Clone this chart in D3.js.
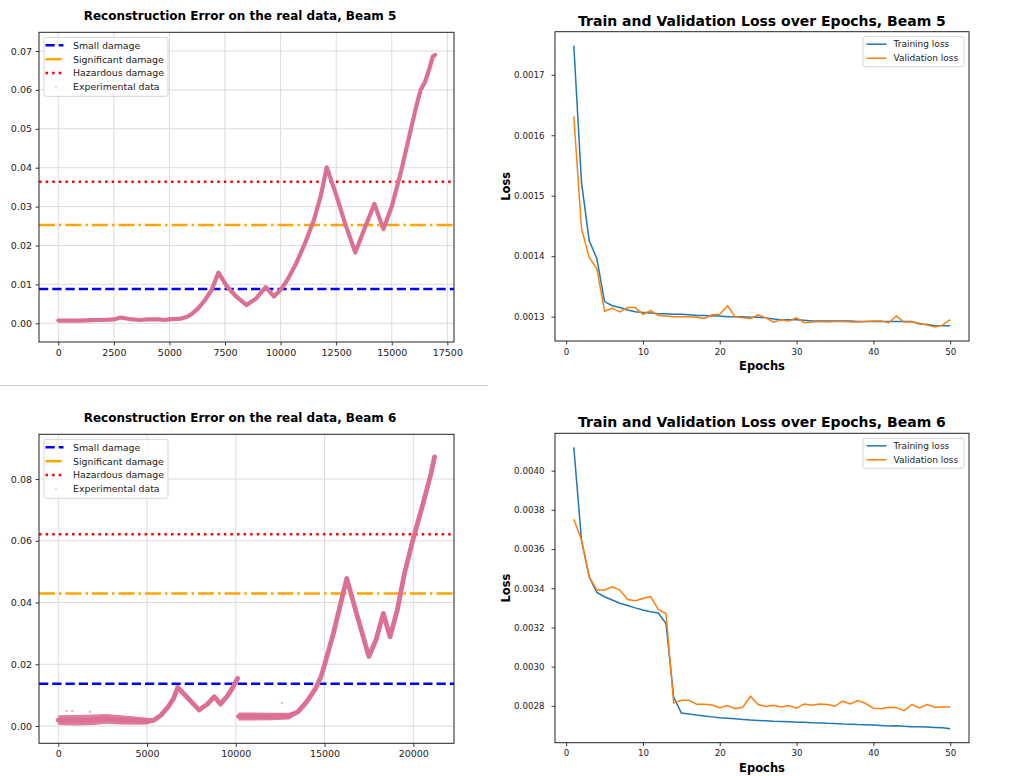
<!DOCTYPE html>
<html>
<head>
<meta charset="utf-8">
<script src="https://cdn.jsdelivr.net/npm/d3@7"></script>
<style>
  body { margin: 0; background: #fff; }
  svg { font-family: "DejaVu Sans", sans-serif; }
</style>
</head>
<body>
<div id="chart"></div>
<script>
// ---- reconstruction error, beam 5 ----
const b5X = [0, 500, 1000, 1500, 2000, 2500, 2800, 3200, 3700, 4000, 4500, 4800, 5000, 5500, 5800, 6000, 6300, 6600, 6900, 7200, 7600, 8000, 8470, 8900, 9330, 9700, 10000, 10300, 10700, 11100, 11500, 11800, 12080, 12500, 12900, 13360, 13800, 14220, 14620, 15000, 15400, 15800, 16100, 16300, 16500, 16700, 16850, 16950];
const b5Y = [0.0007, 0.0007, 0.0007, 0.0008, 0.00085, 0.001, 0.0015, 0.0011, 0.00085, 0.001, 0.001, 0.00085, 0.001, 0.0012, 0.0017, 0.0024, 0.0039, 0.006, 0.0086, 0.013, 0.0094, 0.0069, 0.0047, 0.0064, 0.0093, 0.0069, 0.0086, 0.0111, 0.0154, 0.0206, 0.0266, 0.0326, 0.0401, 0.033, 0.0257, 0.0182, 0.0247, 0.0307, 0.0242, 0.030, 0.0386, 0.0484, 0.0557, 0.060, 0.0621, 0.0656, 0.0686, 0.069];
const b5Thresholds = [0.00882, 0.02527, 0.0364];

// ---- reconstruction error, beam 6 (null = gap in the record) ----
const b6X = [0, 1000, 2000, 2700, 3500, 4500, 5000, 5400, 5800, 6200, 6500, 6730, 7300, 7930, 8400, 8790, 9130, 9500, 9800, 10100, null,
             10150, 11000, 12000, 13000, 13500, 14000, 14500, 14800, 15000, 15500, 16000, 16250, 16800, 17500, 17900, 18310, 18690, 19100, 19500, 20000, 20500, 21000, 21200];
const b6Y = [0.0019, 0.0019, 0.002, 0.0023, 0.002, 0.0017, 0.0016, 0.0019, 0.0036, 0.0063, 0.009, 0.0125, 0.009, 0.0052, 0.0071, 0.0095, 0.0071, 0.0095, 0.0122, 0.0154, null,
             0.0031, 0.0031, 0.0031, 0.0032, 0.0046, 0.0079, 0.0122, 0.016, 0.0198, 0.030, 0.0419, 0.0478, 0.0365, 0.0225, 0.0279, 0.0365, 0.0289, 0.0376, 0.0494, 0.0608, 0.071, 0.0818, 0.0872];
// half height of the noisy scatter band
const b6Spread = [0.0016, 0.0017, 0.0017, 0.0016, 0.0015, 0.0013, 0.0011, 0.0006, 0.0002, 0, 0, 0, 0, 0, 0, 0, 0, 0, 0, 0, null,
                  0.0013, 0.0013, 0.0012, 0.0011, 0.0006, 0.0003, 0, 0, 0, 0, 0, 0, 0, 0, 0, 0, 0, 0, 0, 0, 0, 0, 0];
const b6OutX = [470, 790, 1790, 12600];
const b6OutY = [0.0049, 0.0049, 0.0046, 0.0075];
const b6Thresholds = [0.0137, 0.0429, 0.0621];

// ---- training history ----
const epochs = [1,2,3,4,5,6,7,8,9,10,11,12,13,14,15,16,17,18,19,20,21,22,23,24,25,26,27,28,29,30,31,32,33,34,35,36,37,38,39,40,41,42,43,44,45,46,47,48,49,50];
const b5Train = [0.001748, 0.001522, 0.001426, 0.001396, 0.001325, 0.001318, 0.001315, 0.001311, 0.001308, 0.001307, 0.001306, 0.001305, 0.001305, 0.001304, 0.001304, 0.001303, 0.001302, 0.001302, 0.001301, 0.001301, 0.001300, 0.001300, 0.001300, 0.001299, 0.001299, 0.001298, 0.001296, 0.001295, 0.001295, 0.001295, 0.001294, 0.001293, 0.001293, 0.001293, 0.001293, 0.001293, 0.001293, 0.001292, 0.001292, 0.001292, 0.001292, 0.001292, 0.001292, 0.001292, 0.001292, 0.001288, 0.001287, 0.001285, 0.001285, 0.001285];
const b5Val = [0.001631, 0.001446, 0.001398, 0.001379, 0.001309, 0.001314, 0.001308, 0.001315, 0.001315, 0.001304, 0.001310, 0.001302, 0.001301, 0.001300, 0.001300, 0.001300, 0.001299, 0.001297, 0.001303, 0.001304, 0.001318, 0.001300, 0.001298, 0.001297, 0.001303, 0.001298, 0.001291, 0.001295, 0.001293, 0.001298, 0.001290, 0.001291, 0.001292, 0.001291, 0.001292, 0.001292, 0.001291, 0.001291, 0.001292, 0.001293, 0.001293, 0.001290, 0.001301, 0.001291, 0.001291, 0.001289, 0.001286, 0.001283, 0.001286, 0.001295];
const b6Train = [0.004119, 0.003646, 0.003459, 0.003379, 0.003357, 0.003340, 0.003324, 0.003312, 0.003300, 0.003289, 0.003280, 0.003274, 0.003220, 0.002845, 0.002764, 0.002759, 0.002753, 0.002748, 0.002744, 0.002740, 0.002737, 0.002734, 0.002731, 0.002728, 0.002726, 0.002724, 0.002722, 0.002721, 0.002719, 0.002717, 0.002716, 0.002714, 0.002713, 0.002711, 0.002710, 0.002708, 0.002707, 0.002705, 0.002704, 0.002702, 0.002700, 0.002698, 0.002699, 0.002696, 0.002694, 0.002693, 0.002692, 0.002690, 0.002688, 0.002684];
const b6Val = [0.003752, 0.003646, 0.003459, 0.003391, 0.003391, 0.003408, 0.003391, 0.003343, 0.003336, 0.003348, 0.003357, 0.003292, 0.003271, 0.002815, 0.002829, 0.002829, 0.002809, 0.002809, 0.002805, 0.002791, 0.002802, 0.002786, 0.002793, 0.002849, 0.002807, 0.002797, 0.002803, 0.002795, 0.002802, 0.002788, 0.002810, 0.002803, 0.002810, 0.002807, 0.002798, 0.002824, 0.002810, 0.002827, 0.002812, 0.002788, 0.002785, 0.002793, 0.002791, 0.002776, 0.002807, 0.002790, 0.002807, 0.002793, 0.002795, 0.002795];

const thresholdNames = ["Small damage", "Significant damage", "Hazardous damage"];
const thresholdColors = ["#0000ff", "#ffa500", "#ff0000"];
const thresholdDash = ["9.25,4", "16,4,2.5,4", "2.5,4.1"];
const pink = "#db7093";

const svg = d3.select("#chart").append("svg")
    .attr("width", 1014)
    .attr("height", 776);

// thin rule between the two left panels
svg.append("line")
    .attr("x1", 0).attr("x2", 488).attr("y1", 385.5).attr("y2", 385.5)
    .attr("stroke", "#cfcfcf").attr("stroke-width", 1.2);

function styleAxis(g, size) {
    g.select(".domain").remove();
    g.selectAll(".tick line").attr("stroke", "#222").attr("stroke-width", 0.9);
    g.selectAll(".tick text").attr("fill", "#222").style("font-size", size + "px")
        .style("font-family", "\"DejaVu Sans\", sans-serif");
}

function drawRecon(box, title, titleX, xDomain, yDomain, xTicks, yTicks, xs, ys, spread, outX, outY, thresholds) {
    const xScale = d3.scaleLinear().domain(xDomain).range([box.left, box.right]);
    const yScale = d3.scaleLinear().domain(yDomain).range([box.bottom, box.top]);
    const g = svg.append("g");

    // grid
    g.append("g").selectAll("line").data(xTicks).join("line")
        .attr("x1", d => xScale(d)).attr("x2", d => xScale(d))
        .attr("y1", box.top).attr("y2", box.bottom)
        .attr("stroke", "#dcdcdc").attr("stroke-width", 1);
    g.append("g").selectAll("line").data(yTicks).join("line")
        .attr("y1", d => yScale(d)).attr("y2", d => yScale(d))
        .attr("x1", box.left).attr("x2", box.right)
        .attr("stroke", "#dcdcdc").attr("stroke-width", 1);

    // threshold lines
    g.append("g").selectAll("line").data(thresholds).join("line")
        .attr("x1", box.left).attr("x2", box.right)
        .attr("y1", d => yScale(d)).attr("y2", d => yScale(d))
        .attr("stroke", (d, i) => thresholdColors[i])
        .attr("stroke-width", 2.5)
        .attr("stroke-dasharray", (d, i) => thresholdDash[i]);

    // experimental data
    const pts = xs.map((x, i) => ({x: x, y: ys[i], s: spread ? spread[i] : 0}));
    const defined = d => d.x !== null;
    if (spread) {
        const area = d3.area().defined(defined)
            .x(d => xScale(d.x)).y0(d => yScale(d.y - d.s)).y1(d => yScale(d.y + d.s));
        g.append("path").attr("d", area(pts)).attr("fill", pink).attr("opacity", 0.9);
    }
    const line = d3.line().defined(defined).x(d => xScale(d.x)).y(d => yScale(d.y));
    g.append("path").attr("d", line(pts))
        .attr("fill", "none").attr("stroke", pink)
        .attr("stroke-width", spread ? 4.8 : 4.2)
        .attr("stroke-linejoin", "round").attr("stroke-linecap", "round");
    if (outX) {
        g.append("g").selectAll("circle").data(outX).join("circle")
            .attr("cx", d => xScale(d)).attr("cy", (d, i) => yScale(outY[i]))
            .attr("r", 1.2).attr("fill", pink).attr("opacity", 0.55);
    }

    // frame
    g.append("rect").attr("x", box.left).attr("y", box.top)
        .attr("width", box.right - box.left).attr("height", box.bottom - box.top)
        .attr("fill", "none").attr("stroke", "#222").attr("stroke-width", 1);

    const xAxis = g.append("g").attr("transform", `translate(0,${box.bottom})`)
        .call(d3.axisBottom(xScale).tickValues(xTicks).tickFormat(d3.format("d")).tickSize(3.5).tickPadding(3.5));
    styleAxis(xAxis, 9.5);
    const yAxis = g.append("g").attr("transform", `translate(${box.left},0)`)
        .call(d3.axisLeft(yScale).tickValues(yTicks).tickFormat(d3.format(".2f")).tickSize(3.5).tickPadding(3.5));
    styleAxis(yAxis, 9.5);

    g.append("text").attr("x", titleX).attr("y", box.top - 12)
        .attr("text-anchor", "middle").style("font-weight", "bold").style("font-size", "12px")
        .text(title);

    // legend
    const lg = g.append("g").attr("transform", `translate(${box.left + 5},${box.top + 5})`);
    lg.append("rect").attr("width", 124).attr("height", 59).attr("rx", 2)
        .attr("fill", "#fff").attr("fill-opacity", 0.8).attr("stroke", "#d5d5d5");
    const rows = thresholdNames.concat(["Experimental data"]);
    rows.forEach((name, i) => {
        const yy = 8 + i * 13.9;
        if (i < 3) {
            lg.append("line").attr("x1", 1.5).attr("x2", 19.5).attr("y1", yy).attr("y2", yy)
                .attr("stroke", thresholdColors[i]).attr("stroke-width", 2.5)
                .attr("stroke-dasharray", thresholdDash[i]);
        } else {
            lg.append("circle").attr("cx", 12).attr("cy", yy).attr("r", 1)
                .attr("fill", pink).attr("opacity", 0.4);
        }
        lg.append("text").attr("x", 29).attr("y", yy + 3.4)
            .style("font-size", "9.4px").attr("fill", "#222").text(name);
    });
}

function drawLoss(box, title, train, val) {
    const xExt = d3.extent(epochs), xPad = (xExt[1] - xExt[0]) * 0.05;
    const yExt = d3.extent(train.concat(val)), yPad = (yExt[1] - yExt[0]) * 0.05;
    const xScale = d3.scaleLinear().domain([xExt[0] - xPad, xExt[1] + xPad]).range([box.left, box.right]);
    const yScale = d3.scaleLinear().domain([yExt[0] - yPad, yExt[1] + yPad]).range([box.bottom, box.top]);
    const g = svg.append("g");

    const line = d3.line().x((d, i) => xScale(epochs[i])).y(d => yScale(d));
    g.append("path").attr("d", line(train)).attr("fill", "none")
        .attr("stroke", "#1f77b4").attr("stroke-width", 1.5);
    g.append("path").attr("d", line(val)).attr("fill", "none")
        .attr("stroke", "#ff7f0e").attr("stroke-width", 1.5);

    g.append("rect").attr("x", box.left).attr("y", box.top)
        .attr("width", box.right - box.left).attr("height", box.bottom - box.top)
        .attr("fill", "none").attr("stroke", "#222").attr("stroke-width", 1);

    const xAxis = g.append("g").attr("transform", `translate(0,${box.bottom})`)
        .call(d3.axisBottom(xScale).ticks(6).tickFormat(d3.format("d")).tickSize(3.5).tickPadding(4));
    styleAxis(xAxis, 8.7);
    const yAxis = g.append("g").attr("transform", `translate(${box.left},0)`)
        .call(d3.axisLeft(yScale).ticks(5).tickFormat(d3.format(".4f")).tickSize(3.5).tickPadding(7));
    styleAxis(yAxis, 8.7);

    g.append("text").attr("x", (box.left + box.right) / 2).attr("y", box.top - 6)
        .attr("text-anchor", "middle").style("font-weight", "bold").style("font-size", "14px")
        .text(title);
    g.append("text").attr("x", (box.left + box.right) / 2).attr("y", box.bottom + 29)
        .attr("text-anchor", "middle").style("font-weight", "bold").style("font-size", "11.5px")
        .text("Epochs");
    g.append("text")
        .attr("transform", `translate(${box.left - 45},${(box.top + box.bottom) / 2}) rotate(-90)`)
        .attr("text-anchor", "middle").style("font-weight", "bold").style("font-size", "11.5px")
        .text("Loss");

    const lg = g.append("g").attr("transform", `translate(${box.right - 106},${box.top + 5})`);
    lg.append("rect").attr("width", 101).attr("height", 30).attr("rx", 2)
        .attr("fill", "#fff").attr("fill-opacity", 0.8).attr("stroke", "#d5d5d5");
    [["Training loss", "#1f77b4"], ["Validation loss", "#ff7f0e"]].forEach((r, i) => {
        const yy = 7.5 + i * 14;
        lg.append("line").attr("x1", 3.5).attr("x2", 23.5).attr("y1", yy).attr("y2", yy)
            .attr("stroke", r[1]).attr("stroke-width", 1.5);
        lg.append("text").attr("x", 30.5).attr("y", yy + 3.3)
            .style("font-size", "9px").attr("fill", "#222").text(r[0]);
    });
}

drawRecon({left: 39, top: 32.3, right: 454, bottom: 342},
    "Reconstruction Error on the real data, Beam 5", 240,
    [-868, 17800], [-0.0048, 0.0748],
    [0, 2500, 5000, 7500, 10000, 12500, 15000, 17500],
    [0, 0.01, 0.02, 0.03, 0.04, 0.05, 0.06, 0.07],
    b5X, b5Y, null, null, null, b5Thresholds);

drawRecon({left: 39, top: 434.3, right: 454, bottom: 743.3},
    "Reconstruction Error on the real data, Beam 6", 240,
    [-1087, 22293], [-0.0056, 0.0945],
    [0, 5000, 10000, 15000, 20000],
    [0, 0.02, 0.04, 0.06, 0.08],
    b6X, b6Y, b6Spread, b6OutX, b6OutY, b6Thresholds);

drawLoss({left: 555, top: 31.7, right: 969, bottom: 341},
    "Train and Validation Loss over Epochs, Beam 5", b5Train, b5Val);

drawLoss({left: 555, top: 433.3, right: 969, bottom: 742.7},
    "Train and Validation Loss over Epochs, Beam 6", b6Train, b6Val);
</script>
</body>
</html>
